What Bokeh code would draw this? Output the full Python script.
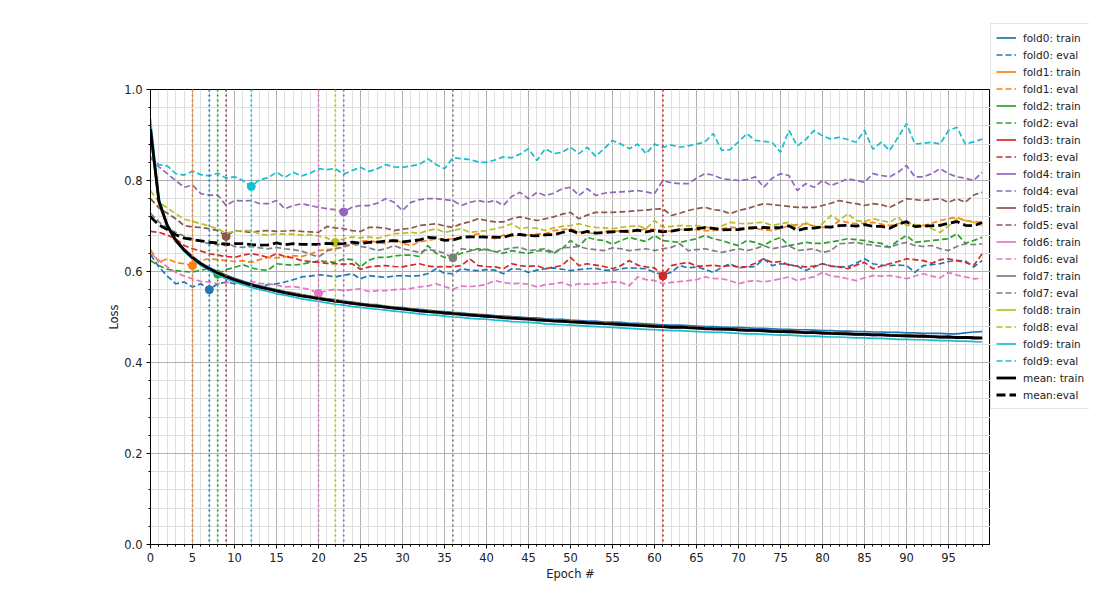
import numpy as np
from bokeh.plotting import figure
from bokeh.layouts import row
from bokeh.models import Range1d, FixedTicker, Span, Legend, LegendItem, Label, PrintfTickFormatter
from bokeh.embed import file_html
from bokeh.resources import INLINE

epochs = list(range(100))

train0 = [0.910, 0.752, 0.702, 0.671, 0.650, 0.633, 0.619, 0.609, 0.600, 0.592,
          0.585, 0.579, 0.573, 0.569, 0.564, 0.560, 0.556, 0.553, 0.549, 0.546,
          0.543, 0.540, 0.538, 0.535, 0.533, 0.530, 0.528, 0.527, 0.524, 0.522,
          0.521, 0.518, 0.517, 0.515, 0.513, 0.512, 0.510, 0.509, 0.507, 0.506,
          0.505, 0.503, 0.502, 0.501, 0.500, 0.498, 0.498, 0.496, 0.495, 0.495,
          0.493, 0.492, 0.491, 0.491, 0.489, 0.489, 0.488, 0.486, 0.486, 0.485,
          0.484, 0.483, 0.482, 0.482, 0.481, 0.480, 0.479, 0.479, 0.478, 0.477,
          0.477, 0.476, 0.475, 0.475, 0.474, 0.473, 0.473, 0.472, 0.472, 0.471,
          0.470, 0.470, 0.469, 0.469, 0.468, 0.468, 0.467, 0.467, 0.466, 0.466,
          0.465, 0.465, 0.464, 0.464, 0.464, 0.463, 0.463, 0.465, 0.467, 0.468]
train1 = [0.900, 0.748, 0.698, 0.667, 0.646, 0.629, 0.616, 0.606, 0.596, 0.589,
          0.581, 0.576, 0.570, 0.566, 0.561, 0.558, 0.554, 0.549, 0.547, 0.543,
          0.540, 0.538, 0.534, 0.533, 0.529, 0.527, 0.526, 0.523, 0.522, 0.519,
          0.518, 0.516, 0.513, 0.512, 0.510, 0.509, 0.507, 0.506, 0.504, 0.503,
          0.502, 0.500, 0.499, 0.497, 0.497, 0.495, 0.494, 0.492, 0.492, 0.490,
          0.490, 0.488, 0.487, 0.487, 0.485, 0.485, 0.483, 0.483, 0.481, 0.481,
          0.479, 0.479, 0.477, 0.478, 0.476, 0.476, 0.474, 0.474, 0.473, 0.473,
          0.471, 0.471, 0.470, 0.470, 0.468, 0.468, 0.467, 0.467, 0.465, 0.466,
          0.464, 0.464, 0.463, 0.463, 0.461, 0.462, 0.460, 0.461, 0.459, 0.459,
          0.458, 0.458, 0.457, 0.457, 0.455, 0.456, 0.454, 0.455, 0.453, 0.453]
train2 = [0.912, 0.758, 0.704, 0.671, 0.649, 0.632, 0.618, 0.607, 0.598, 0.590,
          0.583, 0.577, 0.572, 0.566, 0.563, 0.558, 0.555, 0.550, 0.548, 0.544,
          0.542, 0.538, 0.536, 0.533, 0.531, 0.528, 0.527, 0.524, 0.523, 0.520,
          0.519, 0.516, 0.515, 0.512, 0.512, 0.509, 0.509, 0.506, 0.506, 0.503,
          0.503, 0.501, 0.500, 0.498, 0.498, 0.496, 0.495, 0.493, 0.493, 0.491,
          0.491, 0.489, 0.489, 0.487, 0.487, 0.485, 0.485, 0.483, 0.483, 0.481,
          0.481, 0.479, 0.479, 0.478, 0.478, 0.476, 0.476, 0.474, 0.475, 0.473,
          0.473, 0.471, 0.472, 0.470, 0.470, 0.468, 0.469, 0.467, 0.467, 0.466,
          0.466, 0.464, 0.465, 0.463, 0.463, 0.462, 0.462, 0.461, 0.461, 0.459,
          0.460, 0.458, 0.459, 0.457, 0.457, 0.456, 0.456, 0.455, 0.455, 0.454]
train3 = [0.905, 0.754, 0.701, 0.669, 0.648, 0.631, 0.618, 0.607, 0.598, 0.590,
          0.584, 0.577, 0.572, 0.567, 0.563, 0.559, 0.555, 0.551, 0.548, 0.545,
          0.542, 0.539, 0.537, 0.534, 0.532, 0.529, 0.527, 0.525, 0.523, 0.521,
          0.519, 0.517, 0.515, 0.513, 0.512, 0.510, 0.509, 0.507, 0.506, 0.504,
          0.503, 0.502, 0.500, 0.499, 0.498, 0.497, 0.495, 0.494, 0.493, 0.492,
          0.491, 0.490, 0.489, 0.488, 0.487, 0.486, 0.485, 0.484, 0.483, 0.482,
          0.481, 0.480, 0.479, 0.479, 0.478, 0.477, 0.476, 0.475, 0.475, 0.474,
          0.473, 0.472, 0.472, 0.471, 0.470, 0.469, 0.469, 0.468, 0.467, 0.467,
          0.466, 0.465, 0.465, 0.464, 0.463, 0.463, 0.462, 0.462, 0.461, 0.460,
          0.460, 0.459, 0.459, 0.458, 0.457, 0.457, 0.456, 0.456, 0.455, 0.454]
train4 = [0.900, 0.750, 0.697, 0.666, 0.646, 0.629, 0.616, 0.605, 0.596, 0.588,
          0.581, 0.575, 0.570, 0.565, 0.561, 0.557, 0.553, 0.549, 0.546, 0.543,
          0.540, 0.537, 0.535, 0.532, 0.529, 0.527, 0.525, 0.523, 0.521, 0.519,
          0.517, 0.515, 0.514, 0.511, 0.510, 0.508, 0.507, 0.505, 0.504, 0.502,
          0.501, 0.500, 0.498, 0.497, 0.496, 0.495, 0.493, 0.492, 0.491, 0.490,
          0.489, 0.488, 0.487, 0.486, 0.485, 0.484, 0.483, 0.482, 0.481, 0.480,
          0.479, 0.478, 0.477, 0.477, 0.476, 0.475, 0.474, 0.473, 0.473, 0.472,
          0.471, 0.470, 0.470, 0.469, 0.468, 0.467, 0.467, 0.466, 0.465, 0.465,
          0.464, 0.463, 0.463, 0.462, 0.461, 0.461, 0.460, 0.460, 0.459, 0.458,
          0.458, 0.457, 0.457, 0.456, 0.455, 0.455, 0.454, 0.454, 0.453, 0.452]
train5 = [0.910, 0.757, 0.703, 0.670, 0.648, 0.631, 0.617, 0.606, 0.597, 0.589,
          0.582, 0.577, 0.571, 0.567, 0.562, 0.559, 0.554, 0.551, 0.547, 0.545,
          0.541, 0.539, 0.535, 0.534, 0.530, 0.529, 0.526, 0.525, 0.522, 0.521,
          0.518, 0.517, 0.514, 0.513, 0.511, 0.510, 0.508, 0.507, 0.505, 0.504,
          0.502, 0.502, 0.499, 0.499, 0.497, 0.497, 0.494, 0.494, 0.492, 0.492,
          0.490, 0.490, 0.488, 0.488, 0.486, 0.486, 0.484, 0.484, 0.482, 0.482,
          0.480, 0.480, 0.478, 0.479, 0.477, 0.477, 0.475, 0.475, 0.474, 0.474,
          0.472, 0.472, 0.471, 0.471, 0.469, 0.469, 0.468, 0.468, 0.466, 0.467,
          0.465, 0.465, 0.464, 0.464, 0.462, 0.463, 0.461, 0.462, 0.460, 0.460,
          0.459, 0.459, 0.458, 0.458, 0.456, 0.457, 0.455, 0.456, 0.454, 0.454]
train6 = [0.920, 0.756, 0.700, 0.668, 0.647, 0.630, 0.616, 0.605, 0.596, 0.588,
          0.581, 0.575, 0.569, 0.565, 0.560, 0.557, 0.552, 0.549, 0.545, 0.543,
          0.539, 0.537, 0.533, 0.532, 0.528, 0.527, 0.524, 0.523, 0.520, 0.519,
          0.516, 0.515, 0.512, 0.511, 0.509, 0.508, 0.506, 0.505, 0.503, 0.502,
          0.500, 0.500, 0.497, 0.497, 0.495, 0.495, 0.492, 0.492, 0.490, 0.490,
          0.488, 0.488, 0.486, 0.486, 0.484, 0.484, 0.482, 0.482, 0.480, 0.480,
          0.478, 0.478, 0.476, 0.477, 0.475, 0.475, 0.473, 0.473, 0.472, 0.472,
          0.470, 0.470, 0.469, 0.469, 0.467, 0.467, 0.466, 0.466, 0.464, 0.465,
          0.463, 0.463, 0.462, 0.462, 0.460, 0.461, 0.459, 0.460, 0.458, 0.458,
          0.457, 0.457, 0.456, 0.456, 0.454, 0.455, 0.453, 0.454, 0.452, 0.452]
train7 = [0.922, 0.757, 0.701, 0.669, 0.648, 0.631, 0.618, 0.607, 0.598, 0.590,
          0.583, 0.577, 0.572, 0.567, 0.563, 0.559, 0.555, 0.552, 0.548, 0.545,
          0.542, 0.539, 0.537, 0.534, 0.532, 0.530, 0.527, 0.526, 0.523, 0.522,
          0.519, 0.518, 0.515, 0.514, 0.512, 0.511, 0.509, 0.508, 0.506, 0.505,
          0.503, 0.502, 0.500, 0.499, 0.498, 0.497, 0.495, 0.495, 0.493, 0.493,
          0.491, 0.490, 0.489, 0.488, 0.487, 0.486, 0.485, 0.484, 0.483, 0.482,
          0.481, 0.480, 0.479, 0.479, 0.478, 0.477, 0.476, 0.475, 0.475, 0.474,
          0.473, 0.472, 0.472, 0.471, 0.470, 0.469, 0.469, 0.468, 0.467, 0.467,
          0.466, 0.465, 0.465, 0.464, 0.463, 0.463, 0.462, 0.462, 0.461, 0.460,
          0.460, 0.459, 0.459, 0.458, 0.457, 0.457, 0.456, 0.456, 0.455, 0.454]
train8 = [0.912, 0.753, 0.699, 0.668, 0.646, 0.630, 0.617, 0.606, 0.597, 0.590,
          0.582, 0.577, 0.571, 0.566, 0.563, 0.558, 0.555, 0.550, 0.548, 0.544,
          0.542, 0.538, 0.536, 0.533, 0.531, 0.528, 0.527, 0.524, 0.523, 0.520,
          0.519, 0.516, 0.515, 0.512, 0.512, 0.509, 0.509, 0.506, 0.506, 0.503,
          0.502, 0.501, 0.499, 0.498, 0.497, 0.496, 0.494, 0.493, 0.492, 0.491,
          0.490, 0.489, 0.488, 0.487, 0.486, 0.485, 0.484, 0.483, 0.482, 0.481,
          0.480, 0.479, 0.478, 0.478, 0.477, 0.476, 0.475, 0.474, 0.474, 0.473,
          0.472, 0.471, 0.471, 0.470, 0.469, 0.468, 0.468, 0.467, 0.466, 0.466,
          0.465, 0.464, 0.464, 0.463, 0.462, 0.462, 0.461, 0.461, 0.460, 0.459,
          0.459, 0.458, 0.458, 0.457, 0.456, 0.456, 0.455, 0.455, 0.454, 0.453]
train9 = [0.935, 0.762, 0.703, 0.668, 0.645, 0.627, 0.613, 0.602, 0.592, 0.584,
          0.577, 0.571, 0.565, 0.560, 0.556, 0.551, 0.548, 0.544, 0.540, 0.537,
          0.534, 0.531, 0.528, 0.526, 0.523, 0.521, 0.519, 0.517, 0.515, 0.513,
          0.511, 0.509, 0.507, 0.505, 0.504, 0.502, 0.500, 0.499, 0.497, 0.496,
          0.495, 0.493, 0.492, 0.490, 0.489, 0.488, 0.487, 0.485, 0.484, 0.483,
          0.482, 0.481, 0.480, 0.479, 0.478, 0.477, 0.476, 0.475, 0.474, 0.473,
          0.472, 0.471, 0.470, 0.470, 0.469, 0.468, 0.467, 0.466, 0.466, 0.465,
          0.464, 0.463, 0.463, 0.462, 0.461, 0.460, 0.460, 0.459, 0.458, 0.458,
          0.457, 0.456, 0.456, 0.455, 0.454, 0.454, 0.453, 0.453, 0.452, 0.451,
          0.451, 0.450, 0.450, 0.449, 0.448, 0.448, 0.447, 0.447, 0.446, 0.445]

eval0 = [0.637, 0.610, 0.590, 0.573, 0.577, 0.566, 0.573, 0.560, 0.573, 0.577,
         0.573, 0.575, 0.572, 0.566, 0.571, 0.573, 0.577, 0.582, 0.588, 0.590,
         0.593, 0.591, 0.588, 0.592, 0.595, 0.584, 0.591, 0.589, 0.587, 0.590,
         0.591, 0.590, 0.591, 0.595, 0.606, 0.596, 0.595, 0.606, 0.603, 0.602,
         0.604, 0.603, 0.595, 0.606, 0.605, 0.598, 0.603, 0.606, 0.608, 0.605,
         0.602, 0.604, 0.606, 0.607, 0.603, 0.602, 0.606, 0.608, 0.607, 0.606,
         0.598, 0.593, 0.598, 0.613, 0.608, 0.610, 0.605, 0.598, 0.609, 0.617,
         0.608, 0.610, 0.611, 0.628, 0.613, 0.617, 0.615, 0.612, 0.602, 0.610,
         0.617, 0.612, 0.610, 0.610, 0.618, 0.628, 0.617, 0.614, 0.613, 0.614,
         0.613, 0.598, 0.613, 0.615, 0.617, 0.622, 0.624, 0.623, 0.610, 0.624]
eval1 = [0.648, 0.620, 0.628, 0.620, 0.617, 0.613, 0.624, 0.628, 0.626, 0.624,
         0.622, 0.624, 0.620, 0.626, 0.631, 0.630, 0.632, 0.635, 0.633, 0.638,
         0.646, 0.648, 0.650, 0.653, 0.660, 0.666, 0.668, 0.664, 0.661, 0.672,
         0.662, 0.657, 0.665, 0.668, 0.672, 0.670, 0.672, 0.676, 0.678, 0.683,
         0.676, 0.672, 0.680, 0.678, 0.680, 0.680, 0.682, 0.683, 0.690, 0.692,
         0.694, 0.687, 0.685, 0.683, 0.687, 0.690, 0.688, 0.686, 0.690, 0.694,
         0.692, 0.690, 0.688, 0.692, 0.694, 0.692, 0.690, 0.690, 0.694, 0.697,
         0.696, 0.694, 0.694, 0.692, 0.690, 0.694, 0.701, 0.703, 0.705, 0.700,
         0.697, 0.697, 0.712, 0.708, 0.705, 0.706, 0.708, 0.704, 0.701, 0.705,
         0.708, 0.703, 0.701, 0.706, 0.712, 0.716, 0.719, 0.712, 0.710, 0.708]
eval2 = [0.624, 0.613, 0.605, 0.602, 0.600, 0.599, 0.603, 0.606, 0.594, 0.604,
         0.609, 0.615, 0.608, 0.604, 0.603, 0.617, 0.615, 0.614, 0.616, 0.620,
         0.623, 0.622, 0.620, 0.628, 0.626, 0.610, 0.625, 0.631, 0.631, 0.634,
         0.636, 0.636, 0.633, 0.657, 0.640, 0.631, 0.633, 0.640, 0.645, 0.650,
         0.648, 0.644, 0.640, 0.646, 0.642, 0.640, 0.645, 0.646, 0.640, 0.650,
         0.668, 0.655, 0.675, 0.670, 0.668, 0.660, 0.668, 0.675, 0.670, 0.666,
         0.679, 0.668, 0.666, 0.664, 0.668, 0.672, 0.679, 0.672, 0.668, 0.662,
         0.657, 0.668, 0.664, 0.657, 0.668, 0.675, 0.657, 0.660, 0.664, 0.662,
         0.662, 0.665, 0.668, 0.672, 0.670, 0.668, 0.664, 0.662, 0.653, 0.668,
         0.679, 0.664, 0.666, 0.668, 0.670, 0.672, 0.683, 0.662, 0.668, 0.675]
eval3 = [0.688, 0.686, 0.680, 0.672, 0.657, 0.650, 0.645, 0.639, 0.636, 0.633,
         0.631, 0.636, 0.639, 0.636, 0.631, 0.639, 0.633, 0.630, 0.624, 0.622,
         0.620, 0.618, 0.617, 0.616, 0.617, 0.605, 0.610, 0.612, 0.613, 0.611,
         0.610, 0.614, 0.617, 0.612, 0.610, 0.611, 0.610, 0.613, 0.628, 0.613,
         0.611, 0.610, 0.606, 0.617, 0.613, 0.611, 0.613, 0.606, 0.610, 0.613,
         0.631, 0.613, 0.617, 0.614, 0.611, 0.606, 0.613, 0.624, 0.614, 0.610,
         0.608, 0.590, 0.613, 0.617, 0.620, 0.612, 0.612, 0.614, 0.611, 0.613,
         0.610, 0.611, 0.618, 0.628, 0.620, 0.622, 0.614, 0.612, 0.610, 0.612,
         0.617, 0.612, 0.610, 0.606, 0.614, 0.620, 0.606, 0.612, 0.617, 0.622,
         0.628, 0.626, 0.624, 0.618, 0.626, 0.628, 0.624, 0.620, 0.613, 0.639]
eval4 = [0.850, 0.830, 0.815, 0.800, 0.785, 0.790, 0.771, 0.768, 0.768, 0.745,
         0.756, 0.755, 0.756, 0.749, 0.749, 0.756, 0.738, 0.745, 0.749, 0.745,
         0.741, 0.738, 0.736, 0.731, 0.741, 0.745, 0.745, 0.750, 0.760, 0.752,
         0.734, 0.752, 0.758, 0.760, 0.760, 0.758, 0.756, 0.745, 0.752, 0.756,
         0.752, 0.756, 0.745, 0.765, 0.774, 0.760, 0.774, 0.767, 0.772, 0.782,
         0.785, 0.767, 0.782, 0.767, 0.772, 0.774, 0.775, 0.776, 0.778, 0.775,
         0.771, 0.800, 0.795, 0.793, 0.793, 0.805, 0.815, 0.812, 0.804, 0.802,
         0.800, 0.802, 0.808, 0.785, 0.805, 0.815, 0.811, 0.778, 0.793, 0.785,
         0.800, 0.789, 0.796, 0.804, 0.800, 0.796, 0.815, 0.811, 0.808, 0.818,
         0.833, 0.808, 0.808, 0.815, 0.826, 0.815, 0.808, 0.805, 0.800, 0.818]
eval5 = [0.760, 0.740, 0.728, 0.716, 0.701, 0.698, 0.697, 0.694, 0.690, 0.677,
         0.690, 0.688, 0.686, 0.689, 0.690, 0.688, 0.689, 0.690, 0.688, 0.687,
         0.686, 0.699, 0.696, 0.694, 0.690, 0.688, 0.697, 0.697, 0.695, 0.690,
         0.693, 0.695, 0.701, 0.703, 0.705, 0.700, 0.697, 0.705, 0.709, 0.716,
         0.712, 0.709, 0.709, 0.716, 0.720, 0.716, 0.712, 0.716, 0.720, 0.726,
         0.730, 0.716, 0.724, 0.730, 0.730, 0.730, 0.731, 0.732, 0.734, 0.735,
         0.737, 0.738, 0.723, 0.728, 0.734, 0.738, 0.741, 0.736, 0.734, 0.727,
         0.734, 0.738, 0.744, 0.749, 0.747, 0.745, 0.743, 0.741, 0.741, 0.741,
         0.745, 0.750, 0.756, 0.752, 0.749, 0.745, 0.749, 0.747, 0.741, 0.750,
         0.760, 0.758, 0.756, 0.758, 0.760, 0.752, 0.760, 0.752, 0.768, 0.774]
eval6 = [0.640, 0.625, 0.610, 0.598, 0.590, 0.584, 0.578, 0.577, 0.573, 0.575,
         0.580, 0.576, 0.578, 0.574, 0.573, 0.570, 0.566, 0.567, 0.564, 0.560,
         0.552, 0.558, 0.561, 0.558, 0.560, 0.562, 0.556, 0.558, 0.558, 0.560,
         0.561, 0.563, 0.566, 0.568, 0.573, 0.567, 0.561, 0.568, 0.567, 0.568,
         0.572, 0.580, 0.576, 0.573, 0.574, 0.572, 0.566, 0.571, 0.573, 0.576,
         0.569, 0.573, 0.572, 0.573, 0.575, 0.577, 0.576, 0.569, 0.588, 0.582,
         0.580, 0.573, 0.576, 0.578, 0.580, 0.582, 0.588, 0.585, 0.584, 0.580,
         0.573, 0.578, 0.580, 0.577, 0.580, 0.584, 0.588, 0.580, 0.585, 0.588,
         0.598, 0.590, 0.588, 0.584, 0.580, 0.586, 0.591, 0.590, 0.591, 0.588,
         0.584, 0.590, 0.595, 0.590, 0.586, 0.598, 0.592, 0.588, 0.584, 0.585]
eval7 = [0.728, 0.709, 0.695, 0.686, 0.678, 0.672, 0.666, 0.661, 0.659, 0.664,
         0.655, 0.653, 0.655, 0.652, 0.650, 0.653, 0.650, 0.648, 0.645, 0.638,
         0.632, 0.645, 0.650, 0.655, 0.661, 0.655, 0.652, 0.646, 0.650, 0.657,
         0.650, 0.646, 0.642, 0.648, 0.646, 0.640, 0.630, 0.650, 0.648, 0.646,
         0.650, 0.642, 0.648, 0.652, 0.653, 0.646, 0.648, 0.650, 0.642, 0.652,
         0.653, 0.655, 0.650, 0.648, 0.646, 0.652, 0.650, 0.646, 0.648, 0.650,
         0.646, 0.650, 0.653, 0.661, 0.646, 0.648, 0.650, 0.646, 0.642, 0.646,
         0.650, 0.646, 0.650, 0.657, 0.650, 0.653, 0.657, 0.646, 0.648, 0.650,
         0.642, 0.646, 0.661, 0.662, 0.664, 0.660, 0.658, 0.655, 0.653, 0.660,
         0.664, 0.657, 0.655, 0.657, 0.650, 0.646, 0.655, 0.661, 0.659, 0.661]
eval8 = [0.778, 0.752, 0.740, 0.727, 0.715, 0.710, 0.705, 0.700, 0.694, 0.684,
         0.688, 0.690, 0.690, 0.682, 0.680, 0.683, 0.682, 0.682, 0.680, 0.681,
         0.678, 0.674, 0.664, 0.672, 0.676, 0.674, 0.676, 0.673, 0.678, 0.683,
         0.684, 0.686, 0.684, 0.690, 0.694, 0.686, 0.690, 0.694, 0.686, 0.688,
         0.690, 0.694, 0.698, 0.705, 0.694, 0.697, 0.695, 0.690, 0.696, 0.699,
         0.701, 0.705, 0.700, 0.697, 0.696, 0.694, 0.697, 0.699, 0.701, 0.694,
         0.712, 0.697, 0.699, 0.701, 0.700, 0.701, 0.698, 0.694, 0.700, 0.708,
         0.706, 0.705, 0.707, 0.708, 0.701, 0.705, 0.708, 0.694, 0.708, 0.696,
         0.705, 0.723, 0.712, 0.727, 0.712, 0.710, 0.716, 0.712, 0.708, 0.720,
         0.701, 0.703, 0.701, 0.694, 0.686, 0.700, 0.716, 0.712, 0.708, 0.701]
eval9 = [0.852, 0.835, 0.832, 0.815, 0.812, 0.820, 0.813, 0.810, 0.816, 0.805,
         0.808, 0.800, 0.787, 0.802, 0.806, 0.818, 0.807, 0.818, 0.810, 0.816,
         0.826, 0.824, 0.826, 0.814, 0.822, 0.829, 0.820, 0.826, 0.835, 0.830,
         0.829, 0.832, 0.835, 0.848, 0.835, 0.826, 0.850, 0.848, 0.846, 0.841,
         0.840, 0.845, 0.852, 0.850, 0.858, 0.870, 0.844, 0.870, 0.859, 0.862,
         0.873, 0.859, 0.873, 0.853, 0.870, 0.888, 0.880, 0.870, 0.880, 0.859,
         0.880, 0.873, 0.878, 0.873, 0.876, 0.880, 0.885, 0.903, 0.866, 0.868,
         0.885, 0.903, 0.888, 0.886, 0.884, 0.862, 0.910, 0.876, 0.890, 0.910,
         0.898, 0.891, 0.895, 0.890, 0.884, 0.910, 0.869, 0.884, 0.866, 0.895,
         0.925, 0.880, 0.882, 0.884, 0.880, 0.910, 0.917, 0.880, 0.885, 0.891]

best_epochs = [7, 5, 8, 61, 23, 9, 20, 36, 22, 12]
fold_names = ["fold0", "fold1", "fold2", "fold3", "fold4",
              "fold5", "fold6", "fold7", "fold8", "fold9"]
colors = ["#1f77b4", "#ff7f0e", "#2ca02c", "#d62728", "#9467bd",
          "#8c564b", "#e377c2", "#7f7f7f", "#bcbd22", "#17becf"]

trains = [train0, train1, train2, train3, train4, train5, train6, train7, train8, train9]
evals = [eval0, eval1, eval2, eval3, eval4, eval5, eval6, eval7, eval8, eval9]
mean_train = np.mean(np.array(trains), axis=0)
mean_eval = np.mean(np.array(evals), axis=0)

FONT = "DejaVu Sans"
TXT = "#222222"
H = 603

p = figure(width=990, height=H, output_backend="svg", toolbar_location=None,
           x_range=Range1d(0, 100), y_range=Range1d(0, 1),
           min_border_left=150, min_border_right=0, min_border_top=89, min_border_bottom=59,
           background_fill_color="white", border_fill_color="white")
p.frame_align = False

p.outline_line_color = "black"
p.outline_line_width = 1

xt = FixedTicker(ticks=list(range(0, 100, 5)), minor_ticks=list(range(0, 101)))
yt = FixedTicker(ticks=[0.0, 0.2, 0.4, 0.6, 0.8, 1.0], minor_ticks=[round(i * 0.04, 2) for i in range(26)])
p.xaxis.ticker = xt
p.yaxis.ticker = yt
p.xgrid.ticker = xt
p.ygrid.ticker = yt
p.yaxis.formatter = PrintfTickFormatter(format="%.1f")

for g in (p.xgrid, p.ygrid):
    g.grid_line_color = "#b0b0b0"
    g.grid_line_width = 1
    g.minor_grid_line_color = "#dedede"
    g.minor_grid_line_width = 1

for ax in (p.xaxis, p.yaxis):
    ax.axis_line_color = "black"
    ax.major_tick_line_color = "black"
    ax.minor_tick_line_color = "black"
    ax.major_tick_out = 4
    ax.major_tick_in = 0
    ax.minor_tick_out = 2
    ax.minor_tick_in = 0
    ax.major_label_text_font = FONT
    ax.major_label_text_font_size = "11.5px"
    ax.major_label_text_color = TXT
    ax.axis_label_text_font = FONT
    ax.axis_label_text_font_size = "11.5px"
    ax.axis_label_text_font_style = "normal"
    ax.axis_label_text_color = TXT
    ax.major_label_standoff = 4

p.xaxis.axis_label = "Epoch #"
p.yaxis.axis_label = "Loss"
p.xaxis.axis_label_standoff = 2
p.yaxis.axis_label_standoff = 0

# best-epoch markers sit underneath the curves (as scatter does in the original)
for i in range(10):
    b = best_epochs[i]
    p.scatter([b], [evals[i][b]], size=8, fill_color=colors[i], line_color=colors[i])

for i in range(10):
    p.line(epochs, trains[i], line_color=colors[i], line_width=1.7)
    p.line(epochs, evals[i], line_color=colors[i], line_width=1.7, line_dash="6 3")

for i in range(10):
    p.add_layout(Span(location=best_epochs[i], dimension="height", line_color=colors[i],
                      line_width=1.7, line_dash="2 3"))

p.line(epochs, mean_train, line_color="black", line_width=2.8)
p.line(epochs, mean_eval, line_color="black", line_width=2.8, line_dash="9 4")

p.add_layout(Label(x=406, y=507, x_units="screen", y_units="screen",
                   text="respiratorydistress_mlp_method2_best1", text_align="center",
                   text_baseline="middle", text_font=FONT, text_font_size="18.4px",
                   text_color=TXT))
p.add_layout(Label(x=420, y=467, x_units="screen", y_units="screen",
                   text="Loss", text_align="center", text_baseline="middle",
                   text_font=FONT, text_font_size="13.9px", text_color=TXT))

# legend panel to the right of the axes
q = figure(width=99, height=H, output_backend="svg", toolbar_location=None,
           x_axis_type=None, y_axis_type=None, x_range=Range1d(0, 1), y_range=Range1d(0, 1),
           min_border_left=0, min_border_right=0, min_border_top=0, min_border_bottom=0,
           background_fill_color="white", border_fill_color="white")
q.frame_align = False
q.outline_line_color = None
q.grid.visible = False

nan2 = [float("nan"), float("nan")]
items = []
for i in range(10):
    lt = q.line(nan2, nan2, line_color=colors[i], line_width=1.7)
    le = q.line(nan2, nan2, line_color=colors[i], line_width=1.7, line_dash="6 3")
    items.append(LegendItem(label=fold_names[i] + ": train", renderers=[lt]))
    items.append(LegendItem(label=fold_names[i] + ": eval", renderers=[le]))
lmt = q.line(nan2, nan2, line_color="black", line_width=2.8)
lme = q.line(nan2, nan2, line_color="black", line_width=2.8, line_dash="9 4")
items.append(LegendItem(label="mean: train", renderers=[lmt]))
items.append(LegendItem(label="mean:eval", renderers=[lme]))

legend = Legend(items=items, location=(0, H - 409), margin=0, padding=5,
                spacing=0, label_height=17, glyph_height=17, glyph_width=20,
                label_standoff=7, label_text_font=FONT, label_text_font_size="10.5px",
                label_text_color=TXT,
                border_line_color="#cccccc", border_line_width=1,
                background_fill_color="white", background_fill_alpha=1.0)
q.add_layout(legend, "center")

layout = row(p, q, spacing=0)
open("out.html", "w").write(file_html(layout, INLINE))
